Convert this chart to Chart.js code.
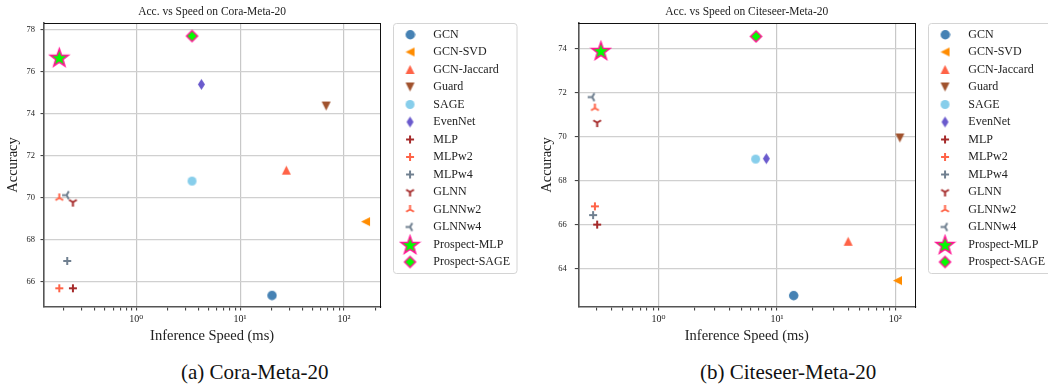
<!DOCTYPE html>
<html>
<head>
<meta charset="utf-8">
<script src="https://cdn.jsdelivr.net/npm/chart.js@4.4.0/dist/chart.umd.min.js"></script>
<style>
  html, body { margin: 0; padding: 0; background: #fff; overflow: hidden; }
  #page { position: relative; width: 1048px; height: 387px; overflow: hidden; }
  .panel { position: absolute; top: 0; }
  .caption { position: absolute; top: 362px; font: 21px/21px "Liberation Serif", "DejaVu Serif", serif; color: #111; white-space: nowrap; }
</style>
</head>
<body>
<div id="page">
  <canvas id="coraChart" class="panel" width="520" height="345" style="left:0"></canvas>
  <canvas id="citeseerChart" class="panel" width="531" height="345" style="left:524px"></canvas>
  <div class="caption" style="left:181px">(a) Cora-Meta-20</div>
  <div class="caption" style="left:700px">(b) Citeseer-Meta-20</div>
</div>
<script>
// Accuracy vs inference speed, one point per method

const methods = ['GCN', 'GCN-SVD', 'GCN-Jaccard', 'Guard', 'SAGE', 'EvenNet', 'MLP', 'MLPw2', 'MLPw4',
  'GLNN', 'GLNNw2', 'GLNNw4', 'Prospect-MLP', 'Prospect-SAGE'];

// inference speed (ms) / accuracy, same order as methods
const coraSpeed = [20.2, 161.6, 27.9, 67.5, 3.44, 4.24, 0.245, 0.181, 0.216, 0.245, 0.181, 0.213, 0.181, 3.44];
const coraAcc = [65.37, 68.87, 71.32, 74.37, 70.8, 75.4, 65.7, 65.7, 67.0, 69.8, 70.0, 70.13, 76.69, 77.7];
const citeseerSpeed = [13.8, 104.5, 40.0, 109.4, 6.62, 8.15, 0.303, 0.29, 0.28, 0.303, 0.29, 0.275, 0.326, 6.67];
const citeseerAcc = [62.78, 63.45, 65.24, 69.94, 68.98, 69.0, 66.0, 66.83, 66.43, 70.64, 71.3, 71.8, 73.92, 74.56];

const coraYTicks = [66, 68, 70, 72, 74, 76, 78];
const citeseerYTicks = [64, 66, 68, 70, 72, 74];
const xMajorTicks = [1, 10, 100];
const xTickLabels = ['10⁰', '10¹', '10²'];
const xDecades = [0.1, 1, 10, 100];

Chart.defaults.font.family = '"Liberation Serif", "DejaVu Serif", serif';
Chart.defaults.color = '#222';
Chart.defaults.animation = false;

// marker images (matplotlib-like shapes)
function makeMarker(w, h, draw) {
  const c = document.createElement('canvas');
  c.width = w; c.height = h;
  const g = c.getContext('2d');
  g.translate(w / 2, h / 2);
  draw(g);
  return c;
}
function circle(color, d) {
  return makeMarker(d + 2, d + 2, g => {
    g.fillStyle = color; g.beginPath(); g.arc(0, 0, d / 2, 0, Math.PI * 2); g.fill();
  });
}
function triangle(color, s, rot) {
  return makeMarker(s + 2, s + 2, g => {
    g.rotate(rot * Math.PI / 180);
    g.fillStyle = color; g.beginPath();
    g.moveTo(0, -s / 2); g.lineTo(s / 2, s / 2); g.lineTo(-s / 2, s / 2); g.closePath(); g.fill();
  });
}
function thinDiamond(color, w, h) {
  return makeMarker(w + 2, h + 2, g => {
    g.fillStyle = color; g.beginPath();
    g.moveTo(0, -h / 2); g.lineTo(w / 2, 0); g.lineTo(0, h / 2); g.lineTo(-w / 2, 0); g.closePath(); g.fill();
  });
}
function plus(color, s) {
  return makeMarker(s + 2, s + 2, g => {
    g.strokeStyle = color; g.lineWidth = 2; g.beginPath();
    g.moveTo(-s / 2, 0); g.lineTo(s / 2, 0); g.moveTo(0, -s / 2); g.lineTo(0, s / 2); g.stroke();
  });
}
function tri(color, s, angles) {
  return makeMarker(s + 2, s + 2, g => {
    g.strokeStyle = color; g.lineWidth = 2; g.beginPath();
    angles.forEach(a => {
      const r = a * Math.PI / 180;
      g.moveTo(0, 0); g.lineTo(Math.cos(r) * s / 2, Math.sin(r) * s / 2);
    });
    g.stroke();
  });
}
function star(fill, edge, R) {
  return makeMarker(2 * R + 4, 2 * R + 4, g => {
    g.fillStyle = fill; g.strokeStyle = edge; g.lineWidth = 1.5; g.beginPath();
    for (let i = 0; i < 10; i++) {
      const r = i % 2 ? R * 0.4 : R;
      const a = -Math.PI / 2 + i * Math.PI / 5;
      g.lineTo(Math.cos(a) * r, Math.sin(a) * r + 1);
    }
    g.closePath(); g.fill(); g.stroke();
  });
}
function diamond(fill, edge, r) {
  return makeMarker(2 * r + 4, 2 * r + 4, g => {
    g.fillStyle = fill; g.strokeStyle = edge; g.lineWidth = 1.5; g.beginPath();
    g.moveTo(0, -r); g.lineTo(r, 0); g.lineTo(0, r); g.lineTo(-r, 0); g.closePath(); g.fill(); g.stroke();
  });
}

const markers = {
  'GCN': circle('#4682b4', 9.5),
  'GCN-SVD': triangle('#ff8c00', 9, -90),
  'GCN-Jaccard': triangle('#ff6347', 9, 0),
  'Guard': triangle('#a0522d', 9, 180),
  'SAGE': circle('#87ceeb', 9),
  'EvenNet': thinDiamond('#6a5acd', 7, 11),
  'MLP': plus('#a52a2a', 8),
  'MLPw2': plus('#ff6347', 8),
  'MLPw4': plus('#708090', 8),
  'GLNN': tri('#a52a2a', 9, [90, 210, 330]),
  'GLNNw2': tri('#ff6347', 9, [270, 30, 150]),
  'GLNNw4': tri('#708090', 9, [180, 300, 60]),
  'Prospect-MLP': star('#00ff00', '#ff1493', 9.5),
  'Prospect-SAGE': diamond('#00ff00', '#ff1493', 5.5)
};

const legendFrame = {
  id: 'legendFrame',
  afterDraw(chart) {
    const lg = chart.legend;
    const ctx = chart.ctx;
    const x = Math.round(lg.left + 6) + 0.5;
    const y = Math.round(chart.chartArea.top) + 0.5;
    const w = lg.right - 3 - x;
    const h = methods.length * 17.5 + 5;
    ctx.save();
    ctx.strokeStyle = '#d4d4d4';
    ctx.lineWidth = 1;
    ctx.beginPath();
    if (ctx.roundRect) ctx.roundRect(x, y, w, h, 3); else ctx.rect(x, y, w, h);
    ctx.stroke();
    ctx.restore();
  }
};

function drawPanel(canvasId, title, speed, acc, yTicks, lay) {
  const datasets = methods.map((name, i) => ({
    label: name,
    data: [{ x: speed[i], y: acc[i] }],
    pointStyle: markers[name],
    backgroundColor: '#000',
    pointRadius: 5,
    pointHoverRadius: 5
  }));
  const xTicks = [];
  xDecades.forEach(d => { for (let k = 1; k <= 9; k++) xTicks.push(k * d); });

  new Chart(document.getElementById(canvasId), {
    type: 'scatter',
    data: { datasets: datasets },
    plugins: [legendFrame],
    options: {
      responsive: false,
      layout: { padding: 0 },
      plugins: {
        tooltip: { enabled: false },
        legend: {
          position: 'right', align: 'start', fullSize: false, maxWidth: 240,
          labels: { usePointStyle: true, pointStyleWidth: 34.6, padding: 5.5, color: '#222', font: { size: 12 } }
        }
      },
      scales: {
        x: {
          type: 'logarithmic', position: 'bottom', min: lay.xMin, max: lay.xMax,
          afterBuildTicks: s => {
            s.ticks = xTicks.filter(v => v >= s.min && v <= s.max).map(v => ({ value: v, major: xMajorTicks.includes(v) }));
          },
          afterFit: s => { s.height = 38; },
          ticks: {
            autoSkip: false, maxRotation: 0, padding: 2.5, font: { size: 10 },
            callback: v => { const i = xMajorTicks.indexOf(v); return i >= 0 ? xTickLabels[i] : ''; }
          },
          grid: {
            color: c => (c.tick && xMajorTicks.includes(c.tick.value)) ? '#c8c8c8' : 'rgba(0,0,0,0)',
            lineWidth: 1.2, tickColor: '#333', tickLength: 3.5, tickWidth: 1
          },
          border: { color: '#555', width: 1.6 },
          title: { display: true, text: 'Inference Speed (ms)', font: { size: 14.5 }, padding: { top: 0, bottom: 0.6 } }
        },
        y: {
          min: lay.yMin, max: lay.yMax,
          afterBuildTicks: s => { s.ticks = yTicks.map(v => ({ value: v })); },
          afterFit: s => { s.width = lay.yAxisW; },
          ticks: { padding: lay.yTickPad, font: { size: 8.5 } },
          grid: { color: '#d0d0d0', lineWidth: 1.2, tickColor: '#333', tickLength: 3.5, tickWidth: 1 },
          border: { color: '#555', width: 1.6 },
          title: { display: true, text: 'Accuracy', font: { size: 14.5 }, padding: { top: lay.yTitlePad, bottom: 0 } }
        },
        x2: {
          type: 'linear', position: 'top', min: 0, max: 1,
          afterFit: s => { s.height = 23; },
          ticks: { display: false },
          grid: { drawOnChartArea: false, drawTicks: false },
          border: { color: '#111', width: 1 },
          title: { display: true, text: title, font: { size: 11.5 }, padding: { top: 5.4, bottom: 0 } }
        },
        y2: {
          type: 'linear', position: 'right', min: 0, max: 1,
          afterFit: s => { s.width = 7; },
          ticks: { display: false },
          grid: { drawOnChartArea: false, drawTicks: false },
          border: { color: '#111', width: 1 }
        }
      }
    }
  });
}

drawPanel('coraChart', 'Acc. vs Speed on Cora-Meta-20', coraSpeed, coraAcc, coraYTicks,
  { xMin: 0.129, xMax: 224, yMin: 64.81, yMax: 78.32, yAxisW: 44, yTickPad: 5.5, yTitlePad: 4.6 });
drawPanel('citeseerChart', 'Acc. vs Speed on Citeseer-Meta-20', citeseerSpeed, citeseerAcc, citeseerYTicks,
  { xMin: 0.21, xMax: 147.6, yMin: 62.25, yMax: 75.17, yAxisW: 54.3, yTickPad: 8.1, yTitlePad: 14.6 });
</script>
</body>
</html>
